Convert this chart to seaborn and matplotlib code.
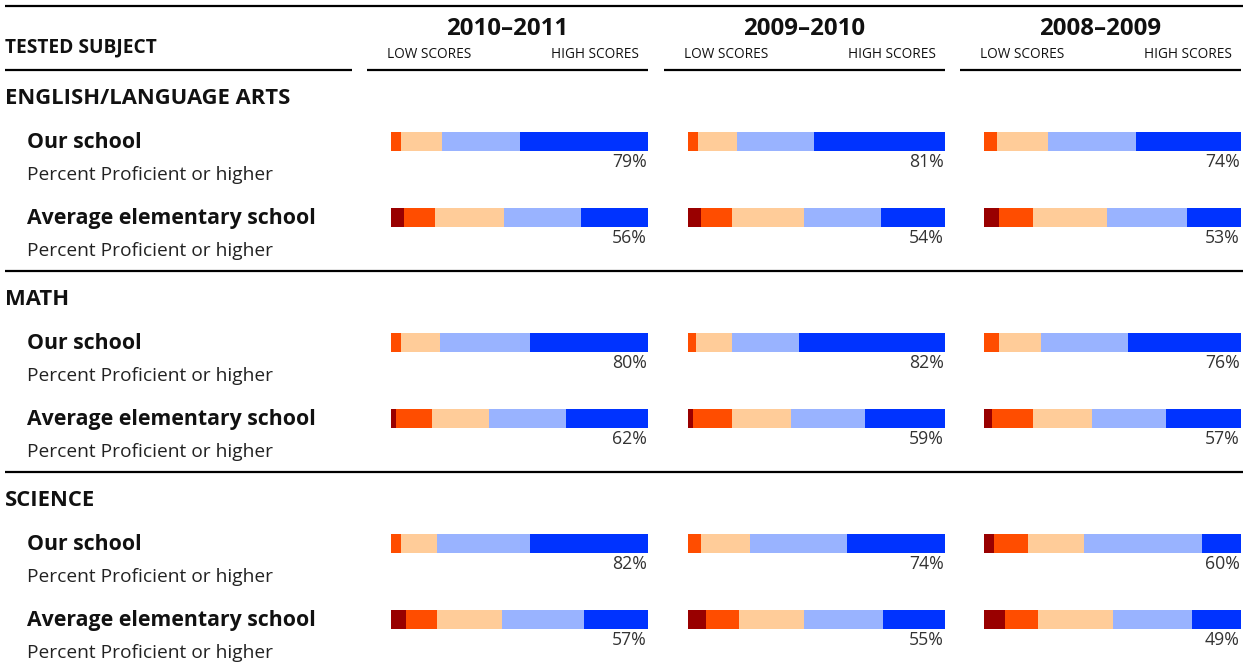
import numpy as np
import pandas as pd
import matplotlib
matplotlib.use("Agg")
import matplotlib.pyplot as plt
from matplotlib.lines import Line2D
import seaborn as sns

# dane: порядок = год -> предмет -> школа
years = ["2010–2011", "2009–2010", "2008–2009"]
subjects = ["ENGLISH/LANGUAGE ARTS", "MATH", "SCIENCE"]
schools = ["Our school", "Average elementary school"]
levels = ["Far below basic", "Below basic", "Basic", "Proficient", "Advanced"]
level_colors = ["#990000", "#ff4d00", "#ffcc99", "#99b3ff", "#0033ff"]

far_below_basic = [0, 5, 0, 2, 0, 6,   0, 5, 0, 2, 0, 7,   0, 6, 0, 3, 4, 8]
below_basic     = [4, 12, 4, 14, 4, 12,  4, 12, 3, 15, 5, 13,  5, 13, 6, 16, 13, 13]
basic           = [16, 27, 15, 22, 14, 25,  15, 28, 14, 23, 19, 25,  20, 29, 16, 23, 22, 29]
proficient      = [30, 30, 35, 30, 36, 32,  30, 30, 26, 29, 38, 31,  34, 31, 34, 29, 46, 31]
advanced        = [50, 26, 46, 32, 46, 25,  51, 25, 57, 31, 38, 24,  41, 21, 44, 29, 15, 19]
pct_proficient  = [79, 56, 80, 62, 82, 57,  81, 54, 82, 59, 74, 55,  74, 53, 76, 57, 60, 49]

rows = []
i = 0
for yr in years:
    for subj in subjects:
        for sch in schools:
            rows.append({"year": yr, "subject": subj, "school": sch,
                         levels[0]: far_below_basic[i], levels[1]: below_basic[i],
                         levels[2]: basic[i], levels[3]: proficient[i],
                         levels[4]: advanced[i], "pct": pct_proficient[i]})
            i += 1
df = pd.DataFrame(rows)
# накопленные суммы для stacked bar
cum = df[levels].cumsum(axis=1)
for lv in levels:
    df["cum_" + lv] = cum[lv]

sns.set_style("white")
plt.rcParams["font.family"] = ["Open Sans", "DejaVu Sans"]

W, H = 1248, 666
fig = plt.figure(figsize=(W / 100, H / 100), dpi=100)


def fx(x):
    return x / W


def fy(y):
    return 1 - y / H


def hline(x0, x1, y, lw=1.6):
    fig.add_artist(Line2D([fx(x0), fx(x1)], [fy(y), fy(y)], color="black",
                          lw=lw, transform=fig.transFigure, solid_capstyle="butt"))


dark = "#111111"
col_left = [391, 688, 984]
bar_w = 257
sec_center = [141.5, 342.5, 543.5]
step = 76

# header
hline(5, 1243, 6)
fig.text(fx(5), fy(52), "TESTED SUBJECT", fontsize=13.8, fontweight="bold",
         color=dark, va="baseline")
hline(5, 352, 70)
for yr, left in zip(years, col_left):
    fig.text(fx(left + bar_w / 2 - 12), fy(35), yr, fontsize=17.3, fontweight="bold",
             color=dark, ha="center", va="baseline")
    fig.text(fx(left - 4), fy(58.5), "LOW SCORES", fontsize=9.8, color=dark, va="baseline")
    fig.text(fx(left + bar_w - 9), fy(58.5), "HIGH SCORES", fontsize=9.8, color=dark,
             ha="right", va="baseline")
    hline(left - 24, left + bar_w, 70)

for s, subj in enumerate(subjects):
    c0 = sec_center[s]
    fig.text(fx(5), fy(c0 - 37.5), subj, fontsize=15.8, fontweight="bold",
             color=dark, va="baseline")
    for k, sch in enumerate(schools):
        fig.text(fx(27), fy(c0 + 6.5 + k * step), sch, fontsize=15.3, fontweight="bold",
                 color=dark, va="baseline")
        fig.text(fx(27), fy(c0 + 38.5 + k * step), "Percent Proficient or higher",
                 fontsize=13.8, color="#222222", va="baseline")
    if s < len(subjects) - 1:
        hline(5, 1243, c0 + 129.5)

    for yr, left in zip(years, col_left):
        sub = df[(df["year"] == yr) & (df["subject"] == subj)]
        ax = fig.add_axes([fx(left), fy(c0 - step / 2 + 2 * step), bar_w / W, 2 * step / H])
        # рисуем от полной суммы к первой ступени
        for lv, colr in zip(levels[::-1], level_colors[::-1]):
            sns.barplot(data=sub, x="cum_" + lv, y="school", order=schools,
                        color=colr, saturation=1, width=0.25, errorbar=None,
                        linewidth=0, orient="h", ax=ax)
        for k, p in enumerate(sub["pct"]):
            ax.text(99.6, k + 0.33, f"{p}%", ha="right", va="baseline",
                    fontsize=12.7, color="#333333")
        ax.set_xlim(0, 100)
        ax.set_ylim(1.5, -0.5)
        ax.axis("off")

fig.savefig("out.png", dpi=100)
